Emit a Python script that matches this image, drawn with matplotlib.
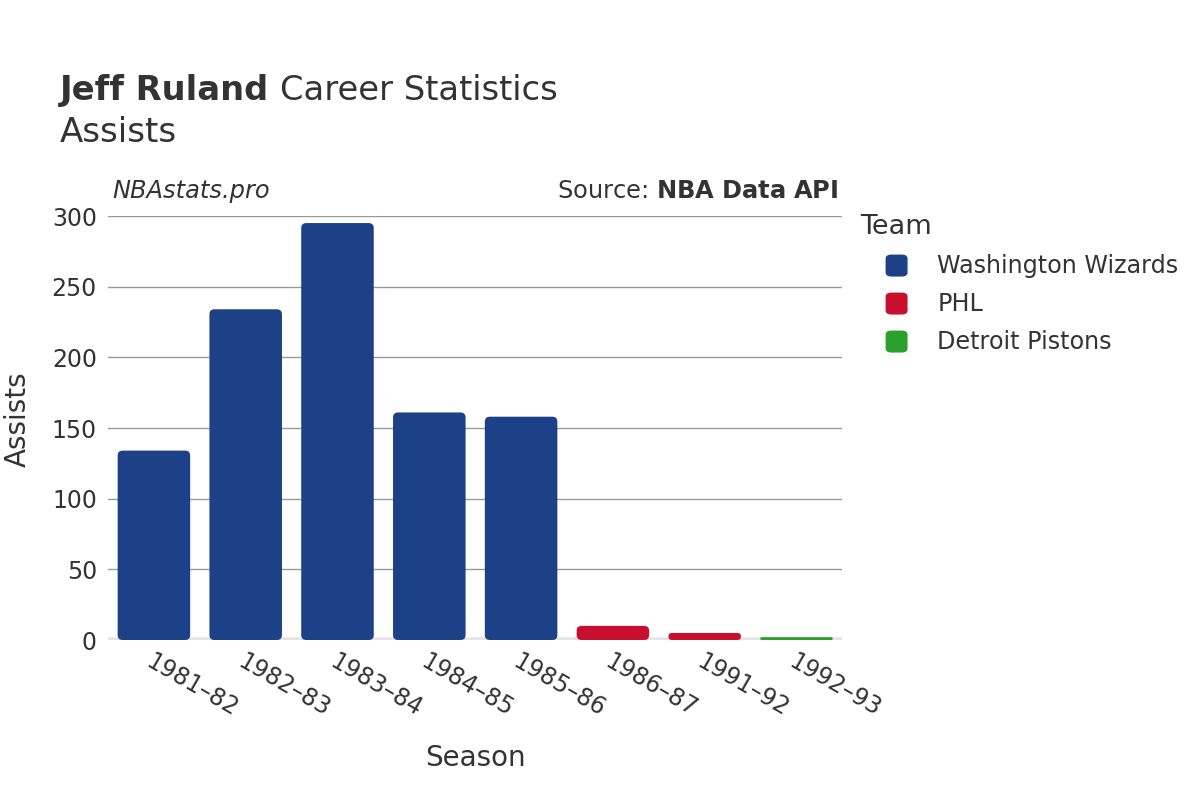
import matplotlib.pyplot as plt
from matplotlib.patches import FancyBboxPatch

seasons = ['1981–82', '1982–83', '1983–84', '1984–85', '1985–86', '1986–87', '1991–92', '1992–93']
assists = [134, 234, 295, 161, 158, 10, 5, 2]
teams = ['Washington Wizards', 'Washington Wizards', 'Washington Wizards', 'Washington Wizards',
         'Washington Wizards', 'PHL', 'PHL', 'Detroit Pistons']
team_colors = {'Washington Wizards': '#1c4187', 'PHL': '#c8102e', 'Detroit Pistons': '#2ca02c'}

plt.rcParams['font.family'] = ['DejaVu Sans']
txt = '#333333'

fig = plt.figure(figsize=(12, 8), dpi=100)
ax = fig.add_axes([0.09, 0.2, 0.612, 0.53])

x = range(len(seasons))
bars = ax.bar(x, assists, width=0.79, color='none')
aspect = 64.0
for b, t in zip(bars, teams):
    w, h = b.get_width(), b.get_height()
    r = min(0.055, h / aspect / 2.0)
    p = FancyBboxPatch((b.get_x(), 0), w, h,
                       boxstyle='round,pad=0,rounding_size=%f' % r,
                       mutation_aspect=aspect, facecolor=team_colors[t],
                       edgecolor='none', zorder=3)
    ax.add_patch(p)

ax.set_xlim(-0.5, len(seasons) - 0.5)
ax.set_ylim(0, 300)
ax.set_yticks([0, 50, 100, 150, 200, 250, 300])
ax.grid(axis='y', color='#999999', linewidth=1, zorder=0)
ax.axhline(0, color='#e5e5e5', linewidth=4, zorder=2)
for s in ax.spines.values():
    s.set_visible(False)
ax.tick_params(axis='both', length=0, labelsize=17, colors=txt)
ax.tick_params(axis='y', pad=8)
ax.tick_params(axis='x', pad=7)
ax.set_xticks(list(x))
ax.set_xticklabels(seasons, rotation=-30, ha='left', va='top', rotation_mode='anchor')
for lab in ax.get_xticklabels():
    lab.set_color(txt)
ax.set_xlabel('Season', fontsize=20, color=txt, labelpad=16)
ax.set_ylabel('Assists', fontsize=20, color=txt)
ax.yaxis.set_label_coords(-0.104, 0.52)

fig.text(0.05, 0.875, 'Jeff Ruland', fontsize=24.3, fontweight='bold', color=txt)
fig.text(0.233, 0.875, 'Career Statistics', fontsize=24.3, color=txt)
fig.text(0.05, 0.822, 'Assists', fontsize=24.5, color=txt)
fig.text(0.094, 0.752, 'NBAstats.pro', fontsize=17.4, style='italic', color=txt)
fig.text(0.699, 0.752, 'Source: $\\bf{NBA\\ Data\\ API}$', fontsize=17.4, color=txt, ha='right')

# legend
fig.text(0.717, 0.708, 'Team', fontsize=19.5, color=txt)
for i, name in enumerate(['Washington Wizards', 'PHL', 'Detroit Pistons']):
    yy = 0.668 - i * 0.0475
    fig.patches.append(FancyBboxPatch((0.738, yy - 0.0137), 0.0183, 0.0275,
                                      boxstyle='round,pad=0,rounding_size=0.005',
                                      transform=fig.transFigure, facecolor=team_colors[name],
                                      edgecolor='none', figure=fig))
    fig.text(0.781, yy, name, fontsize=17.2, color=txt, va='center')

fig.savefig('out.png', dpi=100)
